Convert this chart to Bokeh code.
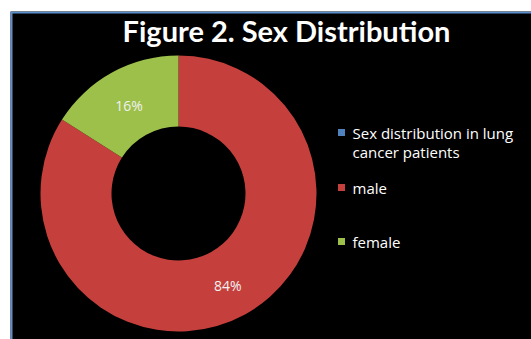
import numpy as np
from bokeh.plotting import figure
from bokeh.models import Range1d, ColumnDataSource, Span
from bokeh.core.properties import value
from bokeh.embed import file_html
from bokeh.resources import INLINE

# ---- data ----
title = "Figure 2. Sex Distribution"
series_name = "Sex distribution in lung cancer patients"
categories = ["male", "female"]
values = [84, 16]
slice_colors = ["#C5403C", "#9CC04A"]
series_color = "#4F81BD"

# ---- geometry (pixel-like data space: data y = 339 - screen y) ----
CX, CY = 178, 146
R_OUT, R_IN = 138, 67

p = figure(width=531, height=339, x_range=Range1d(10, 531), y_range=Range1d(0, 328),
           output_backend="svg", toolbar_location=None,
           min_border_left=10, min_border_top=11, min_border_right=0, min_border_bottom=0)
p.xaxis.visible = False
p.yaxis.visible = False
p.grid.visible = False
p.background_fill_color = "black"
p.border_fill_color = "white"
p.outline_line_color = None

p.add_layout(Span(location=11, dimension="height", line_color="#5B8FD0", line_width=2))
p.add_layout(Span(location=327, dimension="width", line_color="#5B8FD0", line_width=2))

vals = np.array(values, dtype=float)
frac = vals / vals.sum()
ends = np.cumsum(frac)
starts = ends - frac
start_ang = np.pi / 2 - 2 * np.pi * starts
end_ang = np.pi / 2 - 2 * np.pi * ends
mid = (start_ang + end_ang) / 2
r_mid = (R_OUT + R_IN) / 2

src = ColumnDataSource(dict(
    start=start_ang, end=end_ang, color=slice_colors,
    lx=CX + r_mid * np.cos(mid), ly=CY + r_mid * np.sin(mid) - 2,
    label=[f"{v}%" for v in values],
))
p.annular_wedge(x=CX, y=CY, inner_radius=R_IN, outer_radius=R_OUT,
                start_angle="start", end_angle="end", direction="clock",
                fill_color="color", line_color=None, source=src)
p.text(x="lx", y="ly", text="label", source=src, text_align="center",
       text_baseline="middle", text_color="#F0F0F0", text_font_size="14px",
       text_font=value("Open Sans"))

# title
p.text(x=[286], y=[309], text=[title], text_align="center", text_baseline="middle",
       text_color="white", text_font_size="29px", text_font_style="bold",
       text_font=value("Lato"))

# legend (manual)
leg_labels = ["Sex distribution in lung\ncancer patients"] + categories
leg_colors = [series_color] + slice_colors
leg_y = [207, 152, 98]
p.scatter(x=[341] * 3, y=leg_y, marker="square", size=7, fill_color=leg_colors,
          line_color=None)
p.text(x=[352] * 3, y=leg_y, text=leg_labels, text_align="left", text_baseline="top",
       y_offset=-10, text_color="white", text_font_size="15px",
       text_line_height=0.95, text_font=value("Open Sans"))

open("out.html", "w").write(file_html(p, INLINE))
